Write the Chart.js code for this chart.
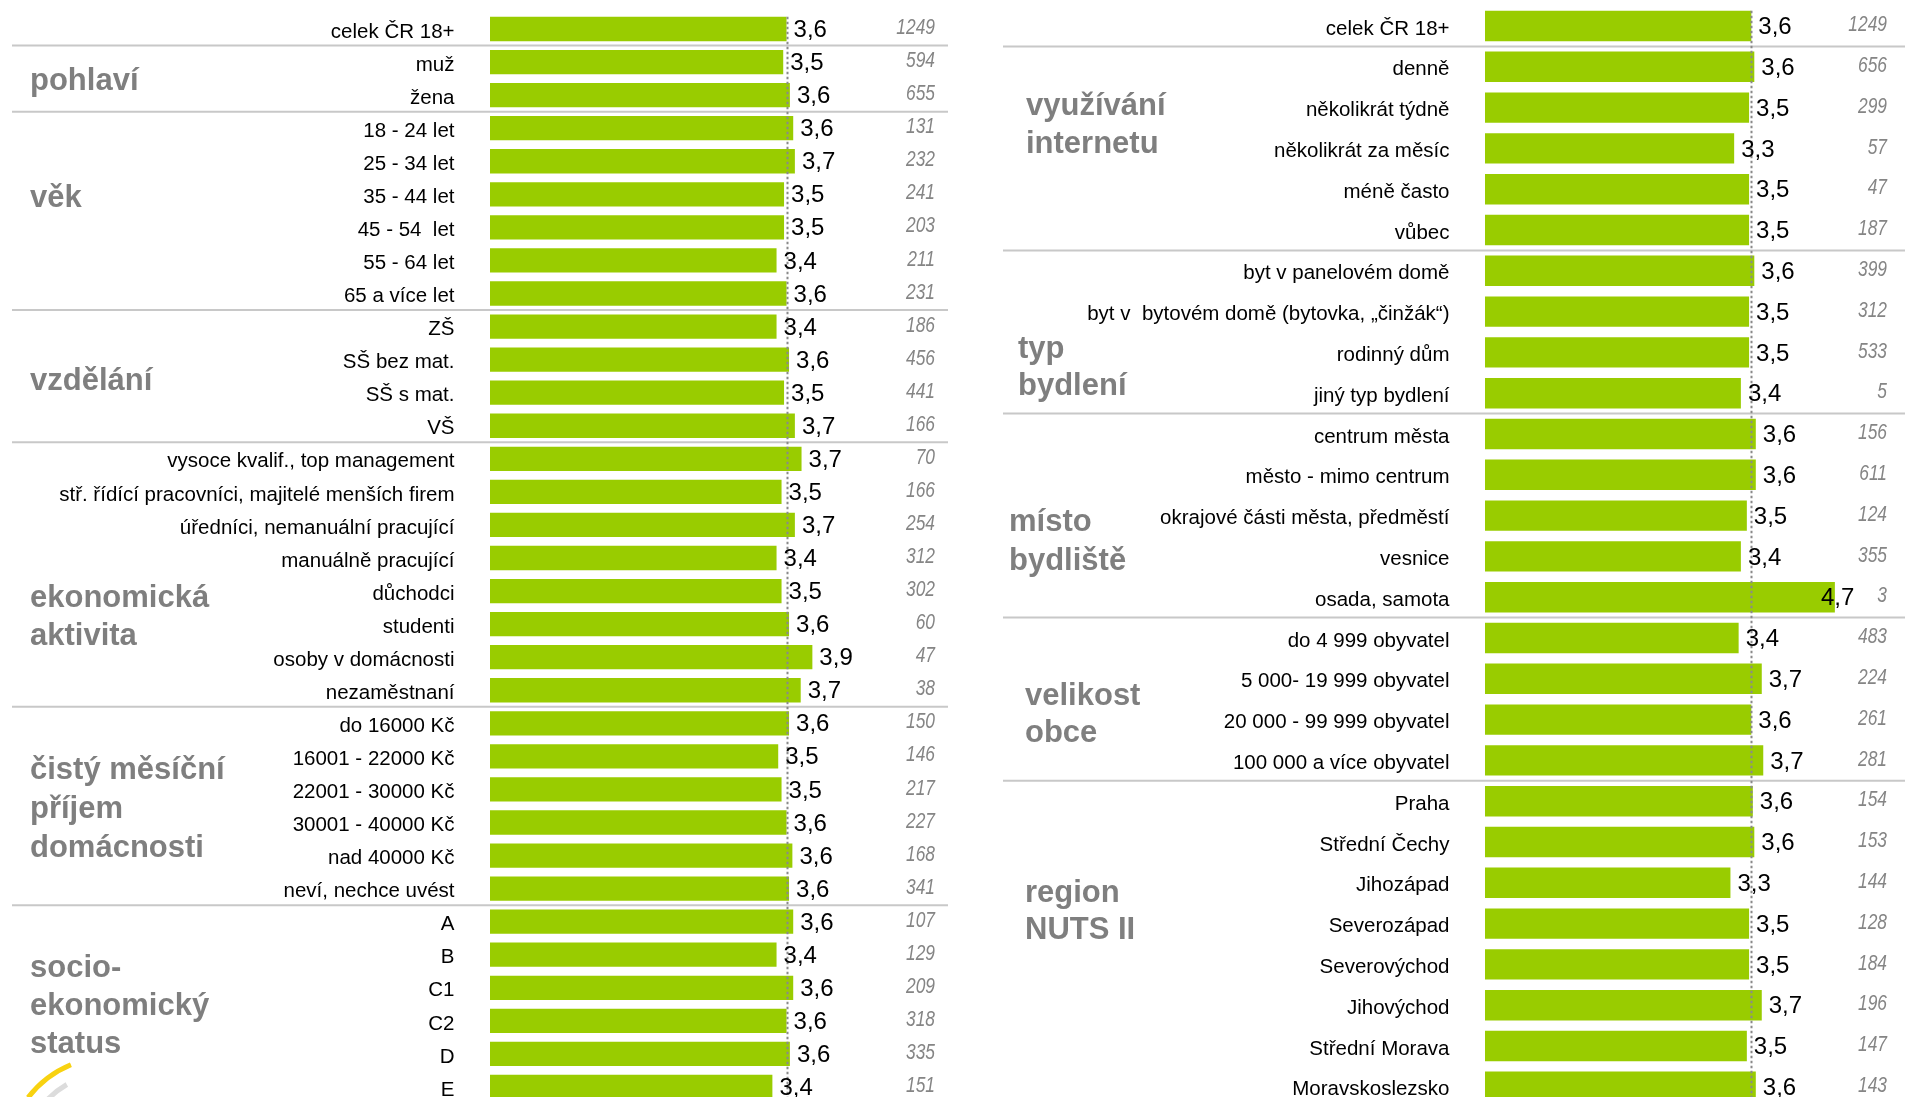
<!DOCTYPE html>
<html><head><meta charset="utf-8">
<script src="https://cdn.jsdelivr.net/npm/chart.js@4.4.1/dist/chart.umd.min.js"></script>
<style>
html,body{margin:0;padding:0;background:#fff;overflow:hidden;width:1905px;height:1097px;}
#left{position:absolute;left:0;top:0;}
#right{position:absolute;left:960px;top:0;}
</style></head><body>
<canvas id="left" width="960" height="1110"></canvas>
<canvas id="right" width="945" height="1110"></canvas>
<script>
// ---------- DATA ----------
const leftCategories = ["celek ČR 18+","muž","žena","18 - 24 let","25 - 34 let","35 - 44 let","45 - 54  let","55 - 64 let","65 a více let","ZŠ","SŠ bez mat.","SŠ s mat.","VŠ","vysoce kvalif., top management","stř. řídící pracovníci, majitelé menších firem","úředníci, nemanuální pracující","manuálně pracující","důchodci","studenti","osoby v domácnosti","nezaměstnaní","do 16000 Kč","16001 - 22000 Kč","22001 - 30000 Kč","30001 - 40000 Kč","nad 40000 Kč","neví, nechce uvést","A","B","C1","C2","D","E"];
const leftValues = [3.56,3.52,3.60,3.64,3.66,3.53,3.53,3.44,3.56,3.44,3.59,3.53,3.66,3.74,3.50,3.66,3.44,3.50,3.59,3.87,3.73,3.59,3.46,3.50,3.56,3.63,3.59,3.64,3.44,3.64,3.56,3.60,3.39];
const leftCounts = [1249,594,655,131,232,241,203,211,231,186,456,441,166,70,166,254,312,302,60,47,38,150,146,217,227,168,341,107,129,209,318,335,151];
const leftGroups = [["pohlaví"],["věk"],["vzdělání"],["ekonomická","aktivita"],["čistý měsíční","příjem","domácnosti"],["socio-","ekonomický","status"]];
const leftGroupEnds = [0,2,8,12,20,26]; // last row index of each block (row 0 = celek)

const rightCategories = ["celek ČR 18+","denně","několikrát týdně","několikrát za měsíc","méně často","vůbec","byt v panelovém domě","byt v  bytovém domě (bytovka, „činžák“)","rodinný dům","jiný typ bydlení","centrum města","město - mimo centrum","okrajové části města, předměstí","vesnice","osada, samota","do 4 999 obyvatel","5 000- 19 999 obyvatel","20 000 - 99 999 obyvatel","100 000 a více obyvatel","Praha","Střední Čechy","Jihozápad","Severozápad","Severovýchod","Jihovýchod","Střední Morava","Moravskoslezsko"];
const rightValues = [3.57,3.61,3.54,3.34,3.54,3.54,3.61,3.54,3.54,3.43,3.63,3.63,3.51,3.43,4.69,3.40,3.71,3.57,3.73,3.59,3.61,3.29,3.54,3.54,3.71,3.51,3.63];
const rightCounts = [1249,656,299,57,47,187,399,312,533,5,156,611,124,355,3,483,224,261,281,154,153,144,128,184,196,147,143];
const rightGroups = [["využívání","internetu"],["typ","bydlení"],["místo","bydliště"],["velikost","obce"],["region","NUTS II"]];
const rightGroupEnds = [0,5,9,14,18];

// ---------- LAYOUT / STYLE ----------
const FONT = "'Liberation Sans', Arial, sans-serif";
const GREEN = '#99cc00';

function fmt(v){ return v.toFixed(1).replace('.', ','); }

function makePlugin(cfg){
  return {
    id: 'decor',
    afterDatasetsDraw(chart){
      const ctx = chart.ctx;
      const xs = chart.scales.x, ys = chart.scales.y;
      const meta = chart.getDatasetMeta(0);
      const vals = chart.data.datasets[0].data;
      ctx.save();
      // separators
      ctx.strokeStyle = '#c8c8c8'; ctx.lineWidth = 2;
      cfg.ends.forEach(i => {
        const y = (ys.getPixelForValue(i) + ys.getPixelForValue(i+1)) / 2;
        ctx.beginPath(); ctx.moveTo(cfg.sepFrom, y); ctx.lineTo(cfg.sepTo, y); ctx.stroke();
      });
      // dotted reference line at total value
      const first = meta.data[0];
      const xr = Math.round(xs.getPixelForValue(vals[0])) + 0.5;
      ctx.strokeStyle = '#8a8a8a'; ctx.lineWidth = 2; ctx.setLineDash([2.5, 2.5]);
      ctx.beginPath(); ctx.moveTo(xr, first.y - first.height/2); ctx.lineTo(xr, chart.height); ctx.stroke();
      ctx.setLineDash([]);
      // value labels
      ctx.fillStyle = '#000'; ctx.font = '24px ' + FONT; ctx.textAlign = 'left'; ctx.textBaseline = 'middle';
      meta.data.forEach((el, i) => {
        const x = Math.min(el.x + 7, cfg.countRight - 66);
        ctx.fillText(fmt(vals[i]), x, el.y + 1.5);
      });
      // counts (condensed italic)
      ctx.fillStyle = '#858585'; ctx.font = 'italic 22px ' + FONT; ctx.textAlign = 'right';
      meta.data.forEach((el, i) => {
        ctx.save();
        ctx.translate(cfg.countRight, el.y - 1);
        ctx.scale(0.79, 1);
        ctx.fillText(String(cfg.counts[i]), 0, 0);
        ctx.restore();
      });
      // group labels
      ctx.fillStyle = '#7f7f7f'; ctx.font = 'bold 31px ' + FONT; ctx.textAlign = 'left'; ctx.textBaseline = 'alphabetic';
      cfg.groups.forEach((lines, g) => {
        lines.forEach((t, k) => ctx.fillText(t, cfg.groupX[g], cfg.groupY[g][k]));
      });
      if (cfg.logo) {
        ctx.lineWidth = 5; ctx.lineCap = 'butt';
        ctx.strokeStyle = '#f8d210';
        ctx.beginPath(); ctx.arc(110, 1160, 103, -2.49, -1.96); ctx.stroke();
        ctx.strokeStyle = '#dcdcdc';
        ctx.beginPath(); ctx.arc(110, 1160, 87, -2.36, -2.09); ctx.stroke();
      }
      ctx.restore();
    }
  };
}

function makeChart(id, cats, vals, opts){
  return new Chart(document.getElementById(id), {
    type: 'bar',
    data: { labels: cats, datasets: [{ data: vals, backgroundColor: GREEN, borderWidth: 0,
      barPercentage: opts.barPct, categoryPercentage: 1 }] },
    options: {
      indexAxis: 'y', responsive: false, animation: false,
      layout: { padding: opts.padding },
      plugins: { legend: { display: false }, tooltip: { enabled: false } },
      scales: {
        x: { display: false, min: 0, max: 5 },
        y: { display: true, grid: { display: false, drawTicks: false }, border: { display: false },
             afterFit: s => { s.width = opts.axisWidth; s.paddingTop = 0; s.paddingBottom = 0; },
             ticks: { autoSkip: false, padding: 35.5, labelOffset: 3, color: '#000', font: { family: FONT, size: 20.5 } } }
      }
    },
    plugins: [makePlugin(opts.decor)]
  });
}

makeChart('left', leftCategories, leftValues, {
  barPct: 0.735, axisWidth: 490,
  padding: { left: 0, top: 12.47, right: 53.5, bottom: 6.5 },
  decor: { ends: leftGroupEnds, sepFrom: 12, sepTo: 948, countRight: 935, counts: leftCounts,
           groups: leftGroups, groupX: [30,30,30,30,30,30],
           groupY: [[90],[207],[390],[607,645],[779,818,857],[977,1015,1053]], logo: true }
});
makeChart('right', rightCategories, rightValues, {
  barPct: 0.745, axisWidth: 525,
  padding: { left: 0, top: 5.6, right: 47, bottom: 2.8 },
  decor: { ends: rightGroupEnds, sepFrom: 43, sepTo: 945, countRight: 927, counts: rightCounts,
           groups: rightGroups, groupX: [66,58,49,65,65],
           groupY: [[115,153],[358,395],[531,570],[705,742],[902,939]], logo: false }
});
</script>
</body></html>
